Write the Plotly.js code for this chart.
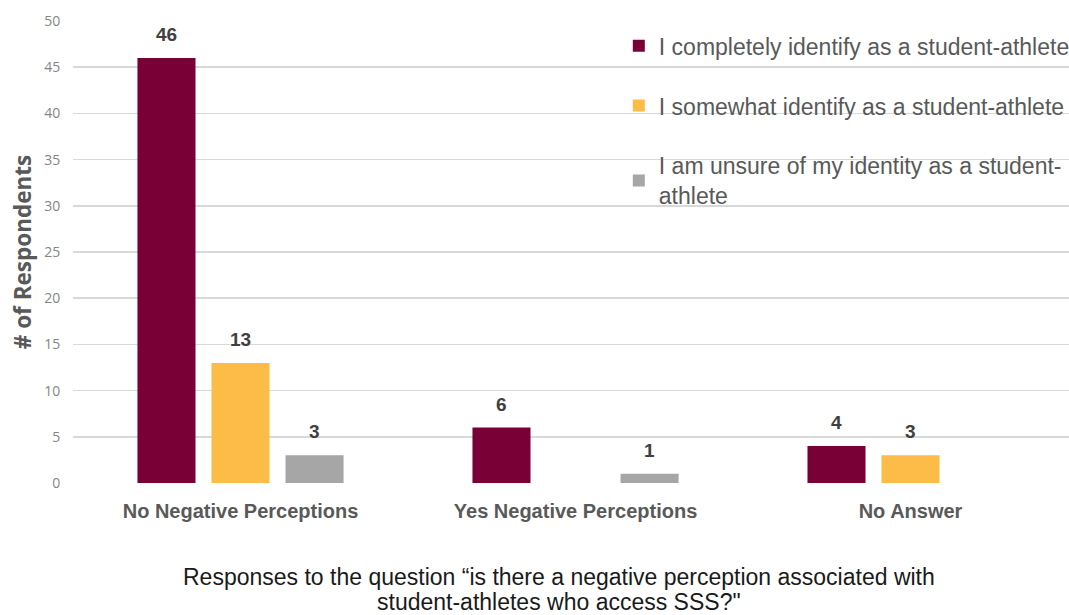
<!DOCTYPE html>
<html>
<head>
<meta charset="utf-8">
<script src="https://cdn.plot.ly/plotly-3.0.1.min.js"></script>
<style>
  html, body { margin: 0; padding: 0; background: #ffffff; }
  #chart { width: 1069px; height: 615px; }
</style>
</head>
<body>
<div id="chart"></div>
<script>
// Survey responses grouped by perception answer
const categories = ['No Negative Perceptions', 'Yes Negative Perceptions', 'No Answer'];
const seriesNames = [
  'I completely identify as a student-athlete',
  'I somewhat identify as a student-athlete',
  'I am unsure of my identity as a student-<br>athlete'
];
const completelyValues = [46, 6, 4];
const somewhatValues = [13, null, 3];
const unsureValues = [3, 1, null];
const seriesColors = ['#780037', '#FDBB48', '#A6A6A6'];
const axisTitleLines = [
  'Responses to the question “is there a negative perception associated with',
  'student-athletes who access SSS?"'
];

const sans = 'Liberation Sans, Arial, sans-serif';
const BAR_GAP = 0.337;
const BAR_GROUP_GAP = 0.216;

const seriesValues = [completelyValues, somewhatValues, unsureValues];

const data = seriesValues.map((values, i) => ({
  type: 'bar',
  name: seriesNames[i],
  x: categories,
  y: values,
  marker: { color: seriesColors[i] },
  legendgroup: 'g' + i,
  hoverinfo: 'x+y+name'
}));

// Value labels sit above each bar, centred on its slot within the group
const slot = (1 - BAR_GAP) / seriesValues.length;
const valueLabels = [];
seriesValues.forEach((values, i) => {
  values.forEach((v, j) => {
    if (v === null) return;
    valueLabels.push({
      xref: 'x', yref: 'y',
      x: j + (i - (seriesValues.length - 1) / 2) * slot,
      y: v,
      xanchor: 'center', yanchor: 'bottom',
      yshift: 11,
      showarrow: false,
      text: String(v),
      font: { family: sans, size: 19, color: '#404040', weight: 'bold' }
    });
  });
});

const titleLines = axisTitleLines.map((line, i) => ({
  xref: 'paper', yref: 'paper',
  x: 0.4875, y: -0.2035 - i * 0.0541,
  xanchor: 'center', yanchor: 'middle',
  showarrow: false,
  text: line,
  font: { family: sans, size: 23, color: '#1a1a1a' }
}));

const layout = {
  width: 1069,
  height: 615,
  margin: { l: 73, r: 0, t: 21, b: 132, autoexpand: false },
  paper_bgcolor: '#ffffff',
  plot_bgcolor: '#ffffff',
  barmode: 'group',
  bargap: BAR_GAP,
  bargroupgap: BAR_GROUP_GAP,
  showlegend: true,
  legend: {
    x: 0.548,
    xanchor: 'left',
    y: 0.993,
    yanchor: 'top',
    traceorder: 'grouped',
    tracegroupgap: 27,
    bgcolor: 'rgba(0,0,0,0)',
    font: { family: sans, size: 23, color: '#595959' }
  },
  xaxis: {
    type: 'category',
    range: [-0.5, 2.473],
    showgrid: false,
    zeroline: false,
    showline: false,
    ticks: '',
    tickfont: { family: sans, size: 20, color: '#595959', weight: 'bold' },
    ticklabelstandoff: 14,
    fixedrange: true
  },
  yaxis: {
    range: [0, 50],
    dtick: 5,
    tick0: 0,
    showgrid: true,
    gridcolor: '#D9D9D9',
    gridwidth: 1.5,
    zeroline: false,
    showline: false,
    ticks: 'outside',
    ticklen: 9,
    tickcolor: 'rgba(0,0,0,0)',
    tickfont: { family: 'Open Sans, sans-serif', size: 14, color: '#858585' },
    title: {
      text: '# of Respondents',
      standoff: 6,
      font: { family: 'Open Sans, sans-serif', size: 22.5, color: '#595959', weight: 'bold' }
    },
    fixedrange: true
  },
  annotations: valueLabels.concat(titleLines)
};

Plotly.newPlot('chart', data, layout, { displayModeBar: false, staticPlot: true });
</script>
</body>
</html>
